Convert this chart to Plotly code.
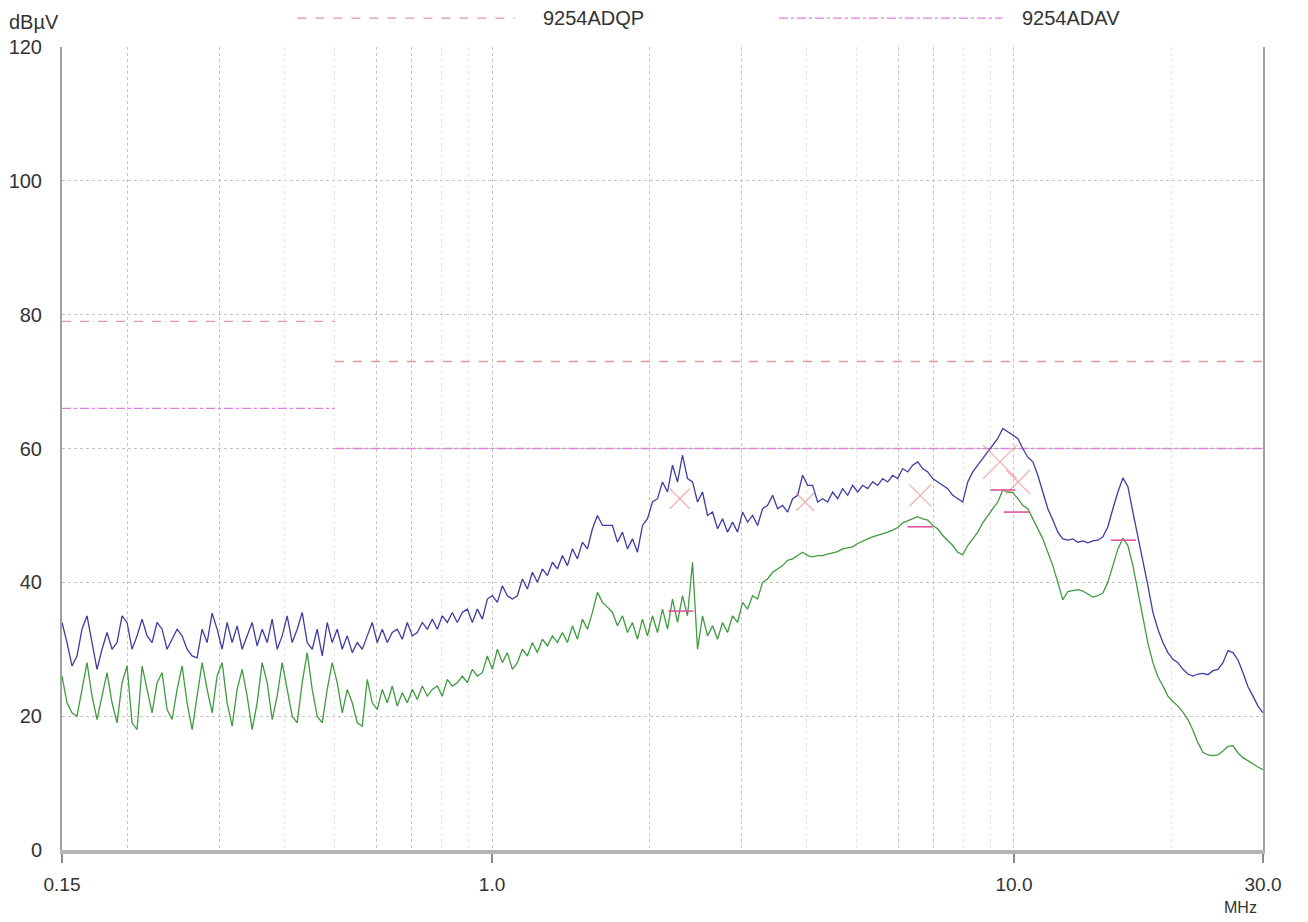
import numpy as np
import plotly.graph_objects as go

# ---------------- data ----------------
# Peak detector sweep (dBuV), evenly spaced on the log-frequency axis 0.15 .. 30 MHz
peak_dbuv = [
    34, 31, 27.5, 29, 33, 35, 31, 27, 30, 32.5,
    30, 31, 35, 34, 30, 32, 34.5, 32, 31, 34,
    33, 30, 31.5, 33, 32, 30, 29, 28.7, 33, 31,
    35.4, 33, 30, 34, 31, 33.5, 30, 32, 34, 30.5,
    33, 31, 34.5, 30, 32, 35, 31, 33, 35.5, 31,
    30, 33, 29, 34, 31, 33, 30, 32, 29.5, 31,
    30, 32, 34, 31, 33, 31, 32.5, 33, 31.5, 34,
    32, 32.5, 34, 33, 34.5, 33, 35, 34, 35.5, 34,
    35.5, 36, 34, 36, 34.5, 37.5, 38, 37, 39.5, 38,
    37.5, 38, 40.5, 39, 41.5, 40, 42, 41, 43, 42,
    44, 42.5, 45, 43.5, 46, 45, 48, 50, 48.5, 48.5,
    48.5, 46, 47.5, 45, 46.5, 44.5, 48.5, 49.5, 52, 52.5,
    55, 53.5, 57.5, 55, 59, 55.5, 55, 52, 53.5, 50,
    50.5, 48, 49.5, 47.5, 49, 47.5, 50.5, 49, 50, 48.5,
    51, 51.5, 53, 51, 51.5, 50.5, 52.5, 53, 56, 54.5,
    54.5, 52, 52.5, 52, 53.5, 52.5, 54, 53, 54.5, 53.5,
    54.5, 54, 55, 54.5, 55.5, 55, 56, 55.5, 57, 56.5,
    57.5, 58, 57, 56.5, 55.5, 55, 54.5, 54, 53, 52.5,
    52, 55, 56.5, 57.5, 58.5, 59.5, 60.5, 61.5, 63, 62.5,
    62, 61.5, 60, 58.7, 58, 56, 53.5, 51, 49.3, 47.5,
    46.5, 46.3, 46.5, 46, 46.2, 45.9, 46.2, 46.3, 46.8, 48.3,
    51, 53.5, 55.6, 54.3, 50.5, 47, 43.5, 39.5, 35.5, 33,
    31, 29.5, 28.5, 28, 27, 26.3, 26, 26.3, 26.4, 26.2,
    26.8, 27, 28, 29.8, 29.5, 28.4, 26.5, 24.4, 23, 21.5,
    20.5,
]

# Average detector sweep (dBuV)
avg_dbuv = [
    26, 22, 20.5, 20, 24, 28, 23, 19.5, 23, 26.5,
    22, 19, 25, 27.5, 19, 18, 27.5, 24, 20.5, 25,
    26.5, 21, 19.5, 24, 27.5, 22, 18, 23, 28, 24,
    20.5, 26, 28, 22, 18.5, 24, 27, 23, 18, 22,
    28, 25, 19.5, 23, 28, 24, 20, 19, 25, 29.5,
    24, 20, 19, 24, 28, 25, 20.5, 24, 22, 19,
    18.5, 25.5, 22, 21, 24, 22, 24.5, 21.5, 23.5, 22,
    24, 22.5, 24.5, 23, 24, 24.5, 23, 25.5, 24.5, 25,
    26, 25, 27, 26, 26.5, 29, 27, 30, 28, 29.5,
    27, 28, 30, 29, 31, 29.5, 31.5, 30.5, 32, 31,
    32.5, 31, 33.5, 31.5, 34.5, 33, 35.5, 38.5, 37, 36.3,
    35.5, 33.5, 35, 32.5, 34, 31.5, 34.5, 32, 35, 32.5,
    36, 33, 37.5, 34, 38, 35, 43, 30, 35, 32,
    33.5, 31.5, 34, 32.5, 35, 34, 37, 36, 38, 37.5,
    40, 40.5, 41.5, 42, 42.5, 43.3, 43.5, 44, 44.5, 44,
    43.8, 44, 44, 44.2, 44.4, 44.6, 45, 45.2, 45.3, 45.8,
    46.2, 46.5, 46.8, 47, 47.3, 47.5, 47.8, 48.2, 48.9, 49.2,
    49.5, 49.8, 49.5, 49.3, 48.5, 48, 47, 46.2, 45.5, 44.5,
    44.1, 45.5, 46.5, 47.5, 48.9, 50, 51, 52, 53.8, 53.5,
    53.4, 52.5, 51.5, 51, 49.5, 47.8, 46.5, 44.5, 42.5, 40,
    37.4, 38.6, 38.8, 38.9, 38.7, 38.3, 37.8, 38, 38.4, 40,
    42.5, 45, 46.6, 45.5, 42.5, 38.5, 35, 30.9, 28, 25.9,
    24.5, 23, 22.2, 21.5, 20.6, 19.5, 17.9, 16, 14.6, 14.2,
    14.1, 14.2, 14.8, 15.5, 15.6, 14.5, 13.8, 13.3, 12.8, 12.4,
    12,
]

freq_pk = np.geomspace(0.15, 30.0, len(peak_dbuv))
freq_av = np.geomspace(0.15, 30.0, len(avg_dbuv))

# Limit lines (9254ADQP / 9254ADAV)
qp_limit_mhz = [0.15, 0.5, None, 0.5, 30.0]
qp_limit_db = [79, 79, None, 73, 73]
av_limit_mhz = [0.15, 0.5, None, 0.5, 30.0]
av_limit_db = [66, 66, None, 60, 60]

# Final measurement markers
qp_mark_mhz = [2.29, 3.98, 6.61, 9.40, 10.18]
qp_mark_db = [52.5, 52.0, 53.0, 58.0, 55.0]
av_mark_mhz = [2.30, 6.61, 9.52, 10.10, 16.2]
av_mark_db = [35.7, 48.3, 53.8, 50.5, 46.3]

x_tick_vals = [0.15, 1.0, 10.0, 30.0]
x_tick_text = ["0.15", "1.0", "10.0", "30.0"]
y_tick_vals = [0, 20, 40, 60, 80, 100, 120]
grid_main = [0.2, 0.3, 0.6, 0.7, 2, 3, 6, 7]
grid_faint = [0.4, 0.5, 0.8, 0.9, 4, 5, 8, 9, 20]

# ---------------- figure ----------------
FONT = "Liberation Sans, Arial, sans-serif"
QP_COL = "#dc9a9a"
AV_COL = "#e27de2"
QP_MARK = "#f08c8c"
AV_MARK = "#e0559e"

fig = go.Figure()

fig.add_trace(go.Scatter(x=qp_limit_mhz, y=qp_limit_db, mode="lines",
                         line=dict(color=QP_COL, width=1.4, dash="dash"),
                         hoverinfo="skip", showlegend=False))
fig.add_trace(go.Scatter(x=av_limit_mhz, y=av_limit_db, mode="lines",
                         line=dict(color=AV_COL, width=1.4, dash="dashdot"),
                         hoverinfo="skip", showlegend=False))

fig.add_trace(go.Scatter(x=freq_av, y=avg_dbuv, mode="lines",
                         line=dict(color="#3f9b3f", width=1.3),
                         showlegend=False))
fig.add_trace(go.Scatter(x=freq_pk, y=peak_dbuv, mode="lines",
                         line=dict(color="#3d3da3", width=1.3),
                         showlegend=False))

fig.add_trace(go.Scatter(x=qp_mark_mhz, y=qp_mark_db, mode="markers",
                         marker=dict(symbol="x-thin-open", size=[20, 18, 22, 34, 24],
                                     color=QP_MARK,
                                     line=dict(color=QP_MARK, width=1.3)),
                         showlegend=False))
fig.add_trace(go.Scatter(x=av_mark_mhz, y=av_mark_db, mode="markers", xaxis="x2",
                         marker=dict(symbol="line-ew-open", size=18, color=AV_MARK,
                                     line=dict(color=AV_MARK, width=1.6)),
                         showlegend=False))

# legend drawn above the plot
fig.add_shape(type="line", xref="paper", yref="paper", x0=0.196, x1=0.377,
              y0=1.036, y1=1.036, line=dict(color=QP_COL, width=1.3, dash="dash"))
fig.add_shape(type="line", xref="paper", yref="paper", x0=0.597, x1=0.783,
              y0=1.036, y1=1.036, line=dict(color=AV_COL, width=1.3, dash="dashdot"))
fig.add_annotation(text="9254ADQP", xref="paper", yref="paper", x=0.399, y=1.036,
                   xanchor="left", yanchor="middle", showarrow=False,
                   font=dict(family=FONT, size=20, color="#333333"))
fig.add_annotation(text="9254ADAV", xref="paper", yref="paper", x=0.798, y=1.036,
                   xanchor="left", yanchor="middle", showarrow=False,
                   font=dict(family=FONT, size=20, color="#333333"))
fig.add_annotation(text="dBµV", xref="paper", yref="paper", x=-0.023, y=1.031,
                   xanchor="center", yanchor="middle", showarrow=False,
                   font=dict(family=FONT, size=20, color="#333333"))
fig.add_annotation(text="MHz", xref="paper", yref="paper", x=0.981, y=-0.072,
                   xanchor="center", yanchor="middle", showarrow=False,
                   font=dict(family=FONT, size=16, color="#333333"))

xr = [np.log10(0.15), np.log10(30.0)]
fig.update_layout(
    width=1300, height=914, autosize=False,
    margin=dict(l=54, r=45, t=39, b=72, autoexpand=False),
    paper_bgcolor="white", plot_bgcolor="white",
    font=dict(family=FONT, size=19, color="#333333"),
    xaxis=dict(type="log", range=xr, tickmode="array", tickvals=x_tick_vals,
               ticktext=x_tick_text, showgrid=True, gridcolor="#c4c4c4",
               griddash="dot", gridwidth=1, ticks="outside", ticklen=9,
               tickcolor="#8c8c8c", tickwidth=1.5, ticklabelstandoff=5,
               showline=True, linecolor="#b4b4b4", linewidth=4, zeroline=False,
               automargin=False,
               minor=dict(tickmode="array", tickvals=grid_main, showgrid=True,
                          gridcolor="#c4c4c4", griddash="dot", gridwidth=1, ticks="")),
    xaxis2=dict(type="log", range=xr, overlaying="x", anchor="y", side="bottom",
                tickmode="array", tickvals=grid_faint, showticklabels=False,
                showgrid=True, gridcolor="#e4e4e4", griddash="dot", gridwidth=1,
                ticks="", showline=False, zeroline=False, automargin=False),
    yaxis=dict(range=[0, 120], tickmode="array", tickvals=y_tick_vals,
               showgrid=False, ticks="", ticklabelstandoff=14,
               tickfont=dict(size=20), automargin=False,
               showline=True, linecolor="#a0a0a0", linewidth=2, mirror=True,
               zeroline=False,
               minor=dict(tickmode="array", tickvals=[20, 40, 60, 80, 100],
                          showgrid=True, gridcolor="#c4c4c4", griddash="dot",
                          gridwidth=1, ticks="")),
)

fig.write_html("out.html")
